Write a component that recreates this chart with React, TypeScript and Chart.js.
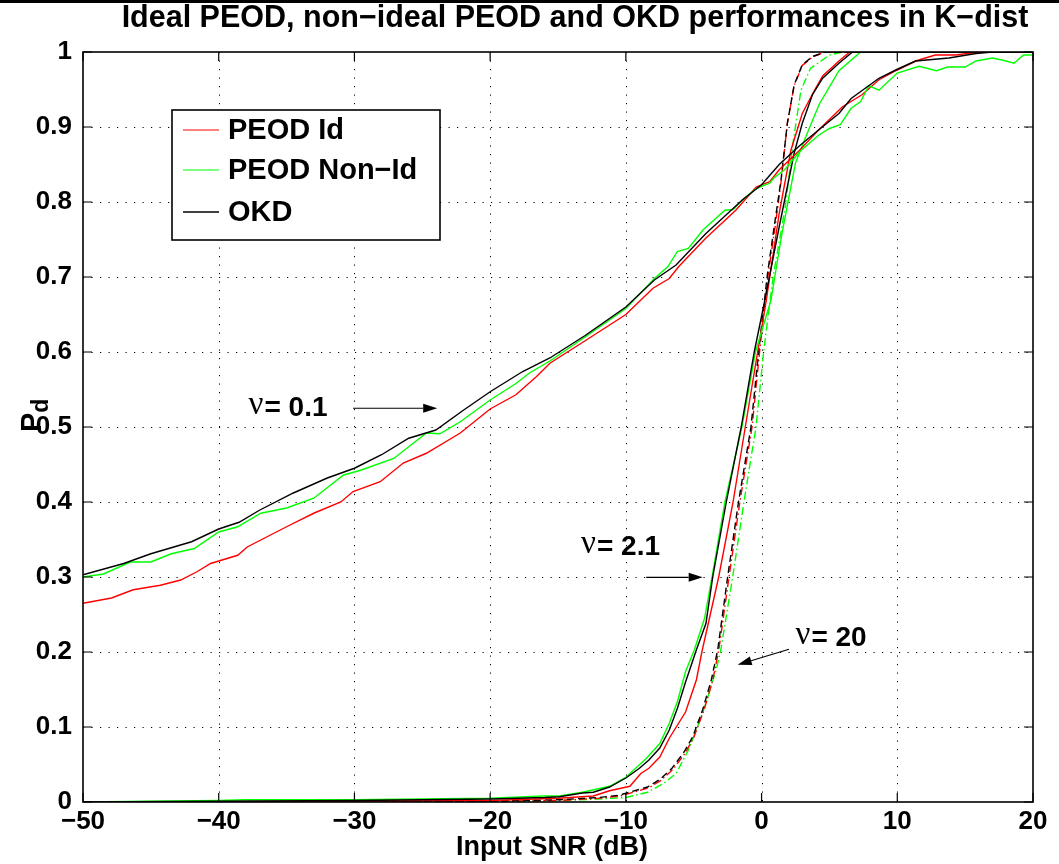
import React, { useEffect, useRef } from "react";
import { Chart, registerables } from "chart.js";

Chart.register(...registerables);

// ---------- data (SNR in dB, Pd) ----------
// nu = 0.1
const snrOkd01 = [-50, -47, -45, -42, -40, -38.5, -37, -34.5, -32, -30, -28, -26, -24, -22, -20, -17.6, -15.6, -13, -10, -7.9, -6.3, -4.1, -2.6, -1.4, 0, 1.3, 2.8, 4.2, 5.7, 6.6, 8.65, 10, 11.35, 13.8, 15.8, 17, 20];
const pdOkd01 = [0.303, 0.318, 0.331, 0.347, 0.364, 0.373, 0.389, 0.412, 0.432, 0.445, 0.463, 0.485, 0.496, 0.522, 0.547, 0.574, 0.592, 0.622, 0.66, 0.696, 0.716, 0.758, 0.783, 0.803, 0.823, 0.85, 0.875, 0.896, 0.918, 0.938, 0.965, 0.977, 0.988, 0.992, 0.998, 1.0, 1.0];

const snrNonId01 = [-50, -48.5, -46.5, -45, -43.5, -41.8, -40, -38.6, -36.9, -35, -33, -30.8, -29.6, -27.1, -24.7, -23.7, -22.2, -20, -18.1, -17.1, -15.6, -13, -10, -7.9, -6.9, -6.2, -5.4, -4.3, -2.7, -2.1, -1.4, -0.4, 0.6, 0.9, 1.7, 2.8, 4.2, 5.0, 5.8, 6.6, 7.3, 7.9, 8.65, 10, 11.6, 12.9, 13.7, 15.0, 15.8, 17.0, 17.8, 18.6, 19.3, 20];
const pdNonId01 = [0.300, 0.304, 0.320, 0.320, 0.331, 0.338, 0.360, 0.367, 0.385, 0.392, 0.405, 0.436, 0.442, 0.458, 0.492, 0.491, 0.507, 0.536, 0.558, 0.572, 0.588, 0.620, 0.658, 0.698, 0.714, 0.734, 0.738, 0.763, 0.789, 0.790, 0.803, 0.818, 0.825, 0.832, 0.843, 0.867, 0.889, 0.898, 0.903, 0.925, 0.934, 0.955, 0.949, 0.972, 0.981, 0.975, 0.980, 0.980, 0.988, 0.992, 0.989, 0.985, 0.996, 0.996];

const snrId01 = [-50, -47.9, -46.3, -44.3, -42.8, -41.6, -40.6, -38.6, -37.9, -35, -33, -31, -30.1, -28.1, -26.4, -24.7, -22.2, -20, -18.1, -16.6, -15.6, -13, -10, -8, -6.8, -6.1, -4.1, -1.9, -0.4, 0.6, 1.3, 2.8, 4.2, 5.96, 7.4, 8.65, 10, 11.35, 12.8, 14.3, 16, 20];
const pdId01 = [0.265, 0.272, 0.283, 0.289, 0.296, 0.307, 0.318, 0.329, 0.340, 0.367, 0.385, 0.400, 0.414, 0.427, 0.452, 0.465, 0.492, 0.524, 0.543, 0.567, 0.585, 0.615, 0.650, 0.685, 0.698, 0.714, 0.752, 0.789, 0.820, 0.827, 0.843, 0.869, 0.896, 0.927, 0.943, 0.963, 0.976, 0.988, 0.996, 0.996, 1.0, 1.0];

// nu = 2.1
const snrOkd21 = [-50, -40, -30, -20, -16, -14.9, -13.2, -12.4, -11.2, -10, -9.0, -8.3, -7.5, -6.8, -6.2, -5.6, -4.8, -4.1, -3.6, -2.6, -1.5, -0.54, 0.24, 1.3, 2.4, 3.0, 3.75, 4.5, 5.7, 6.7, 20];
const pdOkd21 = [0.0, 0.001, 0.002, 0.004, 0.006, 0.007, 0.012, 0.013, 0.020, 0.032, 0.045, 0.056, 0.072, 0.096, 0.125, 0.160, 0.203, 0.238, 0.300, 0.400, 0.500, 0.600, 0.669, 0.767, 0.865, 0.905, 0.943, 0.965, 0.985, 1.0, 1.0];

const snrNonId21 = [-50, -40, -38, -30, -20, -16, -14.9, -13.2, -11.2, -10, -8.5, -7.5, -6.8, -6.2, -5.6, -4.95, -4.2, -3.65, -2.7, -1.45, -0.45, 0.69, 1.5, 2.5, 3.26, 4.24, 5.7, 7.3, 20];
const pdNonId21 = [0.0, 0.002, 0.003, 0.003, 0.005, 0.008, 0.008, 0.013, 0.021, 0.033, 0.058, 0.078, 0.105, 0.134, 0.174, 0.203, 0.245, 0.300, 0.400, 0.500, 0.600, 0.669, 0.758, 0.852, 0.887, 0.930, 0.975, 1.0, 1.0];

const snrId21 = [-50, -30, -20, -15, -12.4, -11.2, -9.7, -8.9, -8.3, -7.5, -6.8, -5.6, -4.8, -4.4, -3.16, -2.1, -1.2, -0.29, 0.35, 1.3, 2.16, 3.0, 3.9, 4.5, 5.7, 6.5, 20];
const pdId21 = [0.0, 0.001, 0.002, 0.005, 0.008, 0.015, 0.021, 0.038, 0.045, 0.060, 0.085, 0.120, 0.163, 0.200, 0.300, 0.400, 0.500, 0.600, 0.669, 0.785, 0.869, 0.918, 0.949, 0.968, 0.988, 1.0, 1.0];

// nu = 20
const snrOkd20 = [-50, -20, -15, -12, -10.5, -8.4, -7.5, -6.6, -5.7, -5.07, -4.34, -3.7, -3.23, -2.5, -1.7, -0.78, -0.22, 0.44, 0.93, 1.43, 1.9, 2.4, 3.0, 3.75, 4.7, 20];
const pdOkd20 = [0.0, 0.001, 0.003, 0.006, 0.009, 0.020, 0.030, 0.045, 0.067, 0.087, 0.123, 0.163, 0.203, 0.300, 0.400, 0.500, 0.600, 0.705, 0.767, 0.829, 0.905, 0.956, 0.983, 0.994, 1.0, 1.0];

const snrId20 = [-50, -20, -15, -12, -10.4, -8.3, -7.4, -6.5, -5.6, -5.0, -4.25, -3.6, -3.15, -2.4, -1.6, -0.7, -0.15, 0.5, 1.0, 1.45, 1.9, 2.4, 3.0, 3.8, 4.7, 20];
const pdId20 = [0.0, 0.001, 0.002, 0.005, 0.008, 0.019, 0.029, 0.044, 0.066, 0.086, 0.122, 0.162, 0.203, 0.300, 0.400, 0.500, 0.600, 0.705, 0.767, 0.829, 0.905, 0.955, 0.982, 0.994, 1.0, 1.0];

const snrNonId20 = [-50, -20, -15, -12, -10, -8.4, -7.2, -6.3, -5.4, -4.8, -4.1, -3.35, -3.0, -2.13, -1.3, -0.41, 0.15, 0.85, 1.75, 2.35, 2.9, 3.6, 5.0, 6.0, 20];
const pdNonId20 = [0.0, 0.001, 0.002, 0.004, 0.006, 0.013, 0.025, 0.038, 0.069, 0.096, 0.132, 0.176, 0.203, 0.300, 0.400, 0.500, 0.600, 0.700, 0.794, 0.883, 0.949, 0.978, 0.996, 1.0, 1.0];

const xTickValues = [-50, -40, -30, -20, -10, 0, 10, 20];
const yTickValues = [0, 0.1, 0.2, 0.3, 0.4, 0.5, 0.6, 0.7, 0.8, 0.9, 1];

const titleText = "Ideal PEOD, non\u2212ideal PEOD and OKD performances in K\u2212dist";
const xLabel = "Input SNR (dB)";
const legendLabels = ["PEOD Id", "PEOD Non\u2212Id", "OKD"];

// annotations
const annotationLabels = ["= 0.1", "= 2.1", "= 20"];
const annotationTextX = [-37.8, -13.3, 2.5];
const annotationTextY = [0.525, 0.34, 0.2187];
const arrowFromX = [-30.1, -8.5, 2.02];
const arrowFromY = [0.525, 0.2996, 0.2036];
const arrowToX = [-23.9, -4.34, -1.76];
const arrowToY = [0.525, 0.2996, 0.183];

const RED = "#ff0000";
const GREEN = "#00ff00";
const BLACK = "#000000";
const SANS = "'Liberation Sans', Arial, Helvetica, sans-serif";
const SERIF = "'Liberation Serif', 'DejaVu Serif', serif";

const pts = (xs: number[], ys: number[]) => xs.map((x, i) => ({ x, y: ys[i] }));

export default function App() {
  const ref = useRef<HTMLCanvasElement | null>(null);

  useEffect(() => {
    const canvas = ref.current;
    if (!canvas) return;

    const mk = (label: string, xs: number[], ys: number[], color: string, dash: number[]) => ({
      label,
      data: pts(xs, ys),
      borderColor: color,
      backgroundColor: color,
      borderWidth: 1.4,
      borderDash: dash,
      pointRadius: 0,
      tension: 0,
      fill: false,
    });

    const dashed = [7, 4];
    const dashDot = [8, 3, 1.5, 3];

    const decor = {
      id: "matlabDecor",
      beforeDatasetsDraw(chart: any) {
        const { ctx, chartArea: a, scales } = chart;
        const xs = scales.x, ys = scales.y;
        ctx.save();
        ctx.strokeStyle = "#000";
        ctx.lineWidth = 1;
        ctx.setLineDash([1.2, 7.3]);
        xTickValues.slice(1, -1).forEach((v) => {
          const px = Math.round(xs.getPixelForValue(v)) + 0.5;
          ctx.beginPath();
          ctx.moveTo(px, a.top);
          ctx.lineTo(px, a.bottom);
          ctx.stroke();
        });
        yTickValues.slice(1, -1).forEach((v) => {
          const py = Math.round(ys.getPixelForValue(v)) + 0.5;
          ctx.beginPath();
          ctx.moveTo(a.left, py);
          ctx.lineTo(a.right, py);
          ctx.stroke();
        });
        ctx.restore();
      },
      afterDatasetsDraw(chart: any) {
        const { ctx, chartArea: a, scales } = chart;
        const xs = scales.x, ys = scales.y;
        ctx.save();
        // axes box
        ctx.setLineDash([]);
        ctx.strokeStyle = "#000";
        ctx.lineWidth = 1.6;
        ctx.strokeRect(a.left, a.top, a.right - a.left, a.bottom - a.top);
        // inward tick marks
        const tl = 9;
        ctx.lineWidth = 1.2;
        xTickValues.forEach((v) => {
          const px = xs.getPixelForValue(v);
          ctx.beginPath();
          ctx.moveTo(px, a.bottom);
          ctx.lineTo(px, a.bottom - tl);
          ctx.moveTo(px, a.top);
          ctx.lineTo(px, a.top + tl);
          ctx.stroke();
        });
        yTickValues.forEach((v) => {
          const py = ys.getPixelForValue(v);
          ctx.beginPath();
          ctx.moveTo(a.left, py);
          ctx.lineTo(a.left + tl, py);
          ctx.moveTo(a.right, py);
          ctx.lineTo(a.right - tl, py);
          ctx.stroke();
        });

        // legend
        const lx = 172, ly = 110, lw = 268, lh = 130;
        ctx.fillStyle = "#fff";
        ctx.fillRect(lx, ly, lw, lh);
        ctx.lineWidth = 1.6;
        ctx.strokeStyle = "#000";
        ctx.strokeRect(lx, ly, lw, lh);
        const rows = [130, 170, 212];
        const cols = [RED, GREEN, BLACK];
        ctx.font = `bold 29px ${SANS}`;
        ctx.textBaseline = "middle";
        ctx.textAlign = "left";
        legendLabels.forEach((t, i) => {
          ctx.strokeStyle = cols[i];
          ctx.lineWidth = i === 2 ? 1.6 : 1.2;
          ctx.beginPath();
          ctx.moveTo(183, rows[i]);
          ctx.lineTo(219, rows[i]);
          ctx.stroke();
          ctx.fillStyle = "#000";
          ctx.fillText(t, 228, rows[i] + 1);
        });

        // annotations
        annotationLabels.forEach((t, i) => {
          const tx = xs.getPixelForValue(annotationTextX[i]);
          const ty = ys.getPixelForValue(annotationTextY[i]);
          ctx.fillStyle = "#000";
          ctx.textBaseline = "middle";
          ctx.textAlign = "left";
          ctx.font = `33px ${SERIF}`;
          ctx.fillText("\u03bd", tx, ty - 3);
          const nw = ctx.measureText("\u03bd").width;
          ctx.font = `bold 28px ${SANS}`;
          ctx.fillText(t, tx + nw + 1, ty);

          const x1 = xs.getPixelForValue(arrowFromX[i]);
          const y1 = ys.getPixelForValue(arrowFromY[i]);
          const x2 = xs.getPixelForValue(arrowToX[i]);
          const y2 = ys.getPixelForValue(arrowToY[i]);
          const ang = Math.atan2(y2 - y1, x2 - x1);
          const hl = 14, hw = 4.5;
          ctx.strokeStyle = "#000";
          ctx.lineWidth = 1.2;
          ctx.beginPath();
          ctx.moveTo(x1, y1);
          ctx.lineTo(x2 - hl * Math.cos(ang), y2 - hl * Math.sin(ang));
          ctx.stroke();
          ctx.beginPath();
          ctx.moveTo(x2, y2);
          ctx.lineTo(x2 - hl * Math.cos(ang) - hw * Math.sin(ang), y2 - hl * Math.sin(ang) + hw * Math.cos(ang));
          ctx.lineTo(x2 - hl * Math.cos(ang) + hw * Math.sin(ang), y2 - hl * Math.sin(ang) - hw * Math.cos(ang));
          ctx.closePath();
          ctx.fill();
        });

        // title
        ctx.fillStyle = "#000";
        ctx.textAlign = "center";
        ctx.textBaseline = "middle";
        ctx.font = `bold 30.5px ${SANS}`;
        ctx.fillText(titleText, 575, 19);

        // x label
        ctx.font = `bold 27px ${SANS}`;
        ctx.fillText(xLabel, (a.left + a.right) / 2 - 6, 848);

        // y label P_d (rotated)
        ctx.save();
        ctx.translate(33, 432);
        ctx.rotate(-Math.PI / 2);
        ctx.textAlign = "left";
        ctx.font = `bold 29px ${SANS}`;
        ctx.fillText("P", 0, 0);
        const pw = ctx.measureText("P").width;
        ctx.font = `bold 23px ${SANS}`;
        ctx.fillText("d", pw, 9);
        ctx.restore();

        // top frame line
        ctx.fillStyle = "#000";
        ctx.fillRect(0, 0, chart.width, 3);
        ctx.restore();
      },
    };

    const chart = new Chart(canvas, {
      type: "line",
      data: {
        datasets: [
          mk("OKD", snrOkd01, pdOkd01, BLACK, []),
          mk("PEOD Non-Id", snrNonId01, pdNonId01, GREEN, []),
          mk("PEOD Id", snrId01, pdId01, RED, []),
          mk("OKD 2.1", snrOkd21, pdOkd21, BLACK, []),
          mk("PEOD Non-Id 2.1", snrNonId21, pdNonId21, GREEN, []),
          mk("PEOD Id 2.1", snrId21, pdId21, RED, []),
          mk("OKD 20", snrOkd20, pdOkd20, BLACK, dashed),
          mk("PEOD Id 20", snrId20, pdId20, RED, dashDot),
          mk("PEOD Non-Id 20", snrNonId20, pdNonId20, GREEN, dashDot),
        ],
      },
      options: {
        animation: false,
        responsive: false,
        devicePixelRatio: 1,
        layout: { padding: { top: 52, right: 26, left: 0, bottom: 0 } },
        plugins: {
          legend: { display: false },
          tooltip: { enabled: false },
          title: { display: false },
        },
        scales: {
          x: {
            type: "linear",
            min: -50,
            max: 20,
            afterFit: (s: any) => {
              s.height = 62;
            },
            afterBuildTicks: (s: any) => {
              s.ticks = xTickValues.map((v) => ({ value: v }));
            },
            grid: { display: false, drawTicks: false },
            border: { display: false },
            ticks: {
              color: "#000",
              padding: 4,
              maxRotation: 0,
              autoSkip: false,
              font: { family: SANS, size: 26, weight: "bold" },
              callback: (v: any) => String(v).replace("-", "\u2212"),
            },
          },
          y: {
            type: "linear",
            min: 0,
            max: 1,
            afterFit: (s: any) => {
              s.width = 83;
            },
            afterBuildTicks: (s: any) => {
              s.ticks = yTickValues.map((v) => ({ value: v }));
            },
            grid: { display: false, drawTicks: false },
            border: { display: false },
            ticks: {
              color: "#000",
              padding: 11,
              autoSkip: false,
              font: { family: SANS, size: 26, weight: "bold" },
              callback: (v: any) => {
                const r = Math.round(Number(v) * 10) / 10;
                if (r === 0) return "0";
                if (r === 1) return "1";
                return r.toFixed(1);
              },
            },
          },
        },
      },
      plugins: [decor],
    } as any);

    return () => chart.destroy();
  }, []);

  return (
    <div style={{ position: "absolute", left: 0, top: 0, width: 1059, height: 864, background: "#fff" }}>
      <canvas ref={ref} width={1059} height={864} style={{ display: "block", width: 1059, height: 864 }} />
    </div>
  );
}
